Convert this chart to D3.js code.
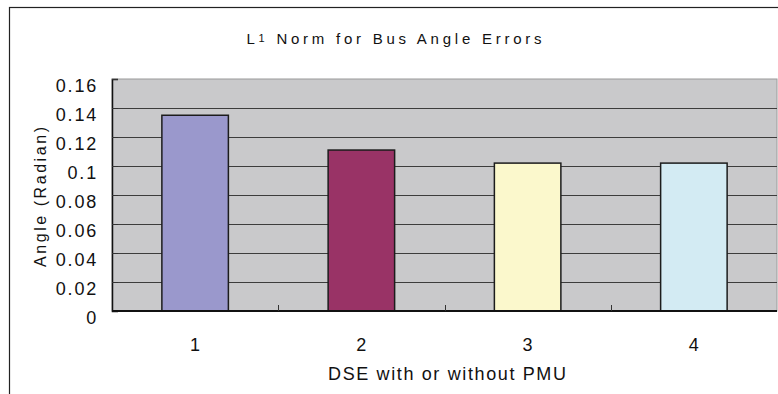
<!DOCTYPE html>
<html>
<head>
<meta charset="utf-8">
<script src="https://cdn.jsdelivr.net/npm/d3@7"></script>
<style>
  body { margin: 0; background: #ffffff; }
  text { font-family: "Liberation Sans", Arial, sans-serif; fill: #111; }
</style>
</head>
<body>
<div id="chart"></div>
<script>
// chart data
var categories = ["1", "2", "3", "4"];
var values = [0.135, 0.111, 0.102, 0.102];
var barColors = ["#9a98cc", "#993366", "#fbf8cc", "#d3ebf3"];
var yTicks = [0, 0.02, 0.04, 0.06, 0.08, 0.1, 0.12, 0.14, 0.16];

var w = 778;
var h = 394;

var svg = d3.select("#chart")
            .append("svg")
            .attr("width", w)
            .attr("height", h);

// outer chart frame (runs off the right and bottom edge)
svg.append("rect")
   .attr("x", 9.5)
   .attr("y", 7.5)
   .attr("width", 800)
   .attr("height", 420)
   .attr("fill", "#ffffff")
   .attr("stroke", "#222")
   .attr("stroke-width", 1.2);

// plot area bounds
var pLeft = 112, pRight = 777, pTop = 79, pBottom = 311;

var x = d3.scaleBand()
          .domain(categories)
          .range([pLeft, pRight])
          .paddingInner(0.6)
          .paddingOuter(0.3);

var y = d3.scaleLinear()
          .domain([0, 0.16])
          .range([pBottom, pTop]);

// grey plot background
svg.append("rect")
   .attr("x", pLeft)
   .attr("y", pTop)
   .attr("width", pRight - pLeft)
   .attr("height", pBottom - pTop)
   .attr("fill", "#c9c9cb")
   .attr("stroke", "#9a9a9a")
   .attr("stroke-width", 1);

// gridlines
svg.append("g")
   .selectAll("line")
   .data(yTicks.filter(function(d) { return d > 0 && d < 0.16; }))
   .enter()
   .append("line")
   .attr("x1", pLeft)
   .attr("x2", pRight)
   .attr("y1", function(d) { return Math.round(y(d)) + 0.5; })
   .attr("y2", function(d) { return Math.round(y(d)) + 0.5; })
   .attr("stroke", "#3c3c3c")
   .attr("stroke-width", 1);

// bars
svg.append("g")
   .selectAll("rect")
   .data(values)
   .enter()
   .append("rect")
   .attr("x", function(d, i) { return x(categories[i]); })
   .attr("y", function(d) { return y(d); })
   .attr("width", x.bandwidth())
   .attr("height", function(d) { return pBottom - y(d); })
   .attr("fill", function(d, i) { return barColors[i]; })
   .attr("stroke", "#1c1c1c")
   .attr("stroke-width", 1.5);

// y axis (ticks inside, labels drawn separately)
var yAxis = svg.append("g")
   .attr("transform", "translate(" + pLeft + ",0)")
   .call(d3.axisRight(y).tickValues(yTicks).tickSize(6).tickFormat(""));
yAxis.select(".domain").attr("stroke", "#111").attr("stroke-width", 1.5);
yAxis.selectAll(".tick line").attr("stroke", "#333");

svg.append("g")
   .selectAll("text")
   .data(yTicks)
   .enter()
   .append("text")
   .attr("x", 98)
   .attr("y", function(d) { return y(d) + 7; })
   .attr("text-anchor", "end")
   .attr("dominant-baseline", "central")
   .attr("font-size", 18)
   .attr("letter-spacing", 1.8)
   .text(function(d) { return d3.format("")(d); });

// x axis: category boundaries, ticks pointing up
var xAxis = svg.append("g")
   .attr("transform", "translate(0," + pBottom + ")");
xAxis.append("line")
   .attr("x1", pLeft)
   .attr("x2", pRight)
   .attr("y1", 0)
   .attr("y2", 0)
   .attr("stroke", "#111")
   .attr("stroke-width", 1.8);
xAxis.selectAll("line.tick")
   .data(categories.slice(1))
   .enter()
   .append("line")
   .attr("class", "tick")
   .attr("x1", function(d) { return Math.round(x(d) - x.step() * x.paddingInner() / 2) + 0.5; })
   .attr("x2", function(d) { return Math.round(x(d) - x.step() * x.paddingInner() / 2) + 0.5; })
   .attr("y1", 0)
   .attr("y2", -6)
   .attr("stroke", "#333");

svg.append("g")
   .selectAll("text")
   .data(categories)
   .enter()
   .append("text")
   .attr("x", function(d) { return x(d) + x.bandwidth() / 2; })
   .attr("y", 345)
   .attr("text-anchor", "middle")
   .attr("dominant-baseline", "central")
   .attr("font-size", 18)
   .text(function(d) { return d; });

// titles
var title = svg.append("text")
   .attr("x", 394)
   .attr("y", 38)
   .attr("text-anchor", "middle")
   .attr("dominant-baseline", "central")
   .attr("font-size", 15)
   .attr("textLength", 295)
   .attr("lengthAdjust", "spacing");
title.append("tspan").text("L");
title.append("tspan").attr("font-size", 11).text("1");
title.append("tspan").text(" Norm for Bus Angle Errors");

svg.append("text")
   .attr("x", 447)
   .attr("y", 374)
   .attr("text-anchor", "middle")
   .attr("dominant-baseline", "central")
   .attr("font-size", 18)
   .attr("textLength", 238)
   .attr("lengthAdjust", "spacing")
   .text("DSE with or without PMU");

svg.append("text")
   .attr("transform", "translate(40,197) rotate(-90)")
   .attr("text-anchor", "middle")
   .attr("dominant-baseline", "central")
   .attr("font-size", 16)
   .attr("textLength", 140)
   .attr("lengthAdjust", "spacing")
   .text("Angle (Radian)");
</script>
</body>
</html>
